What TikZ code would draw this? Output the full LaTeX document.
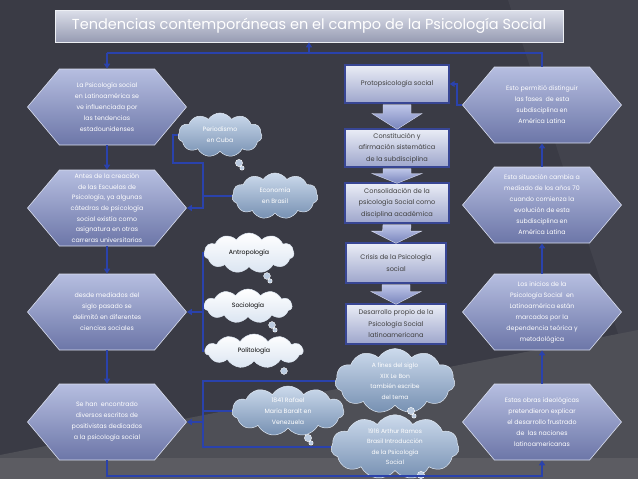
\documentclass[tikz,border=0pt]{standalone}
\usepackage{fontspec}
\setmainfont{Poppins}
\usepackage{tikz}
\usetikzlibrary{arrows.meta,shapes.symbols,positioning,calc}
\definecolor{backdrop}{RGB}{58,59,69}
\definecolor{panel}{RGB}{66,67,77}
\definecolor{floorgray}{RGB}{78,79,86}
\definecolor{stripgray}{RGB}{92,92,98}
\definecolor{linkblue}{RGB}{42,66,172}
\definecolor{hextop}{RGB}{182,190,224}
\definecolor{hexbottom}{RGB}{108,118,168}
\definecolor{boxtop}{RGB}{234,237,246}
\definecolor{boxbottom}{RGB}{158,166,204}
\definecolor{boxedge}{RGB}{56,70,148}
\definecolor{arrowtop}{RGB}{190,198,232}
\definecolor{arrowbottom}{RGB}{120,132,188}
\definecolor{cloudtop}{RGB}{204,218,236}
\definecolor{cloudbottom}{RGB}{118,144,178}
\definecolor{titletop}{RGB}{220,223,234}
\definecolor{titlebottom}{RGB}{150,155,178}

\begin{document}
\begin{tikzpicture}[x=1pt, y=-1pt,
    link/.style={linkblue, line width=1.8pt},
    tip/.style={-{Triangle[length=5pt, width=6pt]}},
    hexa/.style={signal, signal to=east and west, signal pointer angle=100,
        top color=hextop, bottom color=hexbottom, draw=hextop!50!white, line width=0.6pt,
        minimum width=159pt, minimum height=76pt, inner sep=0pt,
        text=white, align=center, font=\fontsize{6.3}{11}\selectfont},
    phase/.style={rectangle, top color=boxtop, bottom color=boxbottom, draw=boxedge, line width=1.4pt,
        minimum width=104pt, minimum height=38pt, inner sep=1pt,
        text=black!75, align=center, font=\fontsize{6.6}{11.5}\selectfont},
    blockarrow/.style={top color=arrowtop, bottom color=arrowbottom, draw=arrowtop!60!white, line width=0.4pt},
    thought/.style={cloud, cloud puffs=11, cloud puff arc=115, aspect=2,
        top color=cloudtop, bottom color=cloudbottom, draw=cloudtop!60!white, line width=0.5pt,
        inner sep=0pt, text=white, align=center, font=\fontsize{6.2}{11}\selectfont},
    plainthought/.style={thought, top color=white, bottom color=cloudtop!70!white, text=black},
    bubble/.style={fill=cloudtop!80!cloudbottom, draw=white, line width=0.4pt}
]
    \useasboundingbox (0,0) rectangle (638,479);

    % Background
    \fill[backdrop] (0,0) rectangle (638,479);
    \fill[panel] (508,0) -- (638,0) -- (638,394) -- cycle;
    \fill[floorgray] (0,455) -- (638,330) -- (638,479) -- (0,479) -- cycle;
    \fill[stripgray] (0,458) rectangle (638,479);

    % Title
    \node[top color=titletop, bottom color=titlebottom, draw=titletop!50!white, line width=0.5pt,
        minimum width=508pt, minimum height=32pt, text=white, font=\fontsize{14.5}{17}\selectfont]
        (title) at (309,26) {Tendencias contemporáneas en el campo de la Psicología Social};

    % Left column
    \node[hexa] (lps) at (107,107) {La Psicología social\\en Latinoamérica se\\ve influenciada por\\las tendencias\\estadounidenses};
    \node[hexa, font=\fontsize{6.3}{10.6}\selectfont] (antes) at (107,208) {Antes de la creación\\de las Escuelas de\\Psicología, ya algunas\\cátedras de psicología\\social existía como\\asignatura en otras\\carreras universitarias};
    \node[hexa] (desde) at (107,312) {desde mediados del\\siglo pasado se\\delimitó en diferentes\\ciencias sociales};
    \node[hexa] (escritos) at (107,422) {Se han\ \ encontrado\\diversos escritos de\\positivistas dedicados\\a la psicología social};

    % Right column
    \node[hexa] (fases) at (542,105) {Esto permitió distinguir\\las fases\ \ de esta\\subdisciplina en\\América Latina};
    \node[hexa] (cambio) at (542,205) {Esta situación cambia a\\mediado de los años 70\\cuando comienza la\\evolución de esta\\subdisciplina en\\América Latina};
    \node[hexa] (inicios) at (542,312) {Los inicios de la\\Psicología Social\ \ en\\Latinoamérica están\\marcados por la\\dependencia teórica y\\metodológica};
    \node[hexa] (obras) at (542,422) {Estas obras ideológicas\\pretendieron explicar\\el desarrollo frustrado\\de\ \ las naciones\\latinoamericanas};

    % Middle column
    \node[phase] (proto) at (397,84) {Protopsicología social};
    \node[phase] (constit) at (397,148) {Constitución y\\afirmación sistemática\\de la subdisciplina};
    \node[phase, minimum height=40pt] (consol) at (397,203) {Consolidación de la\\psicología Social como\\disciplina académica};
    \node[phase, minimum width=100pt, minimum height=40pt] (crisis) at (396,263) {Crisis de la Psicología\\social};
    \node[phase, minimum width=100pt, minimum height=40pt] (propio) at (396,324) {Desarrollo propio de la\\Psicología Social\\latinoamericana};
    \foreach \a/\b in {proto/constit, constit/consol, consol/crisis, crisis/propio} {
        \draw[blockarrow] ($(\a.south)+(-14,1)$) -- ($(\a.south)!0.4!(\b.north)+(-14,0)$)
            -- ($(\a.south)!0.4!(\b.north)+(-25,0)$) -- ($(\b.north)+(0,1)$)
            -- ($(\a.south)!0.4!(\b.north)+(25,0)$) -- ($(\a.south)!0.4!(\b.north)+(14,0)$)
            -- ($(\a.south)+(14,1)$) -- cycle;
    }

    % Clouds
    \node[thought, minimum width=84pt, minimum height=44pt] (perio) at (220,135) {Periodismo\\en Cuba};
    \node[thought, minimum width=86pt, minimum height=46pt] (econ) at (275,196) {Economía\\en Brasil};
    \node[plainthought, minimum width=90pt, minimum height=40pt] (antro) at (249,253) {Antropología};
    \node[plainthought, minimum width=88pt, minimum height=34pt] (socio) at (248,306) {Sociología};
    \node[plainthought, minimum width=98pt, minimum height=34pt] (polit) at (254,351) {Politología};
    \node[thought, minimum width=120pt, minimum height=56pt, font=\fontsize{6}{10.5}\selectfont] (lebon) at (395,381) {A fines del siglo\\XIX Le Bon\\también escribe\\del tema};
    \node[thought, minimum width=112pt, minimum height=50pt] (baralt) at (288,411) {1841 Rafael\\María Baralt en\\Venezuela};
    \node[thought, minimum width=128pt, minimum height=56pt, font=\fontsize{6}{10.5}\selectfont] (ramos) at (395,447) {1916 Arthur Ramos\\Brasil Introducción\\de la Psicología\\Social};

    % Cloud tails
    \fill[bubble] ($(perio)+(19,28)$) circle (3.6) ($(perio)+(22,33)$) circle (2.2);
    \fill[bubble] ($(antro)+(18,23)$) circle (3.4) ($(antro)+(21,28)$) circle (2.2);
    \fill[bubble] ($(socio)+(24,19)$) circle (3.4) ($(socio)+(27,24)$) circle (2.2);
    \fill[bubble] ($(polit)+(30,20)$) circle (3.4);
    \fill[bubble] ($(lebon)+(16,30)$) circle (3.6) ($(lebon)+(19,35)$) circle (2.2);
    \fill[bubble] ($(baralt)+(20,27)$) circle (3.6) ($(baralt)+(23,32)$) circle (2.2);
    \fill[bubble] ($(ramos)+(26,28)$) circle (3.6);

    % Frame connectors
    \coordinate (topL) at (107,53);
    \coordinate (topM) at (309,53);
    \coordinate (topR) at (542,53);
    \draw[link] (topL) -- (topR) -- (fases.north);
    \draw[link, tip] (topM) -- (title.south);
    \draw[link, tip] (topL) -- (lps.north);
    \foreach \a/\b in {lps/antes, antes/desde, desde/escritos}
        \draw[link, tip] (\a.south) -- (\b.north);
    \foreach \a/\b in {obras/inicios, inicios/cambio, cambio/fases}
        \draw[link, tip] (\a.north) -- (\b.south);
    \draw[link, tip] (escritos.south) -- ++(0,16) -| (obras.south);
    \draw[link, tip] (fases.west) -- ++(-5,0) |- (proto.east);

    % Cloud connectors
    \coordinate (spineA) at (203,163);
    \draw[link, tip] (perio.west) -- ++(-5,0) |- (spineA) |- (antes.east);
    \draw[link] (econ.west) -- (econ.west -| spineA);
    \coordinate (spineB) at (203,300);
    \draw[link] (antro.west) -- (antro.west -| spineB) -- (polit.west -| spineB) -- (polit.west);
    \draw[link] (socio.west) -- (socio.west -| spineB);
    \draw[link, tip] (desde.east -| spineB) -- (desde.east);
    \coordinate (spineC) at (203,420);
    \draw[link] (lebon.west) -- (lebon.west -| spineC) -- (ramos.west -| spineC) -- (ramos.west);
    \draw[link] (baralt.west) -- (baralt.west -| spineC);
    \draw[link, tip] (escritos.east -| spineC) -- (escritos.east);
\end{tikzpicture}
\end{document}
